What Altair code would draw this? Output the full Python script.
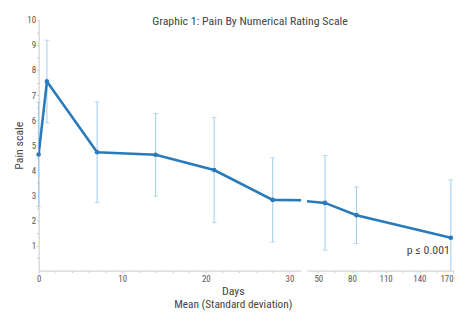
import altair as alt
import pandas as pd

# ---- data ----
days = [0, 1, 7, 14, 21, 28, 56, 84, 168]
pain_mean = [4.63, 7.54, 4.72, 4.62, 4.01, 2.82, 2.70, 2.21, 1.31]
pain_sd = [2.08, 1.65, 2.01, 1.65, 2.10, 1.68, 1.89, 1.13, 2.31]

left_ticks = [0, 2, 4, 6, 8, 10, 12, 14, 16, 18, 20, 22, 24, 26, 28, 30]
left_labels = [0, 10, 20, 30]
right_ticks = [50, 65, 80, 95, 110, 125, 140, 155, 170]
right_labels = [50, 80, 110, 140, 170]
y_ticks = [0.5, 1, 1.5, 2, 2.5, 3, 3.5, 4, 4.5, 5, 5.5, 6, 6.5, 7, 7.5, 8, 8.5, 9, 9.5, 10]
y_labels = [1, 2, 3, 4, 5, 6, 7, 8, 9, 10]

p_day = [148]
p_value = [0.8]
p_text = ["p \u2264 0.001"]

LINE = "#2a7ab9"
ERR = "#9fcbe8"
FONT = "Liberation Sans Narrow, Arial Narrow, Roboto Condensed, sans-serif"
TXT = "#444444"

df = pd.DataFrame({"day": days, "mean": pain_mean, "sd": pain_sd})
pdf = pd.DataFrame({"day": p_day, "value": p_value, "text": p_text})


def label_expr(vals):
    return "indexof([" + ",".join(str(v) for v in vals) + "], datum.value) >= 0 ? format(datum.value, 'd') : ''"


def panel(domain, width, ticks, labels, show_y, with_p, flush):
    xs = alt.Scale(domain=domain, nice=False, zero=False)
    ys = alt.Scale(domain=[0, 10], nice=False)
    x_axis = alt.Axis(values=ticks, labelExpr=label_expr(labels), title=None,
                      labelFlush=flush, labelOverlap=False, labelPadding=2)
    if show_y:
        y_axis = alt.Axis(values=y_ticks, labelExpr=label_expr(y_labels),
                          title="Pain scale", labelOverlap=False,
                          labelPadding=1, titlePadding=1)
    else:
        y_axis = None
    base = alt.Chart(df).transform_calculate(
        lo="max(0, datum.mean - datum.sd)",
        hi="datum.mean + datum.sd",
    )
    inrange = base.transform_filter(
        f"datum.day >= {domain[0]} && datum.day <= {domain[1]}"
    )
    rules = inrange.mark_rule(color=ERR, strokeWidth=1).encode(
        x=alt.X("day:Q", scale=xs, axis=x_axis),
        y=alt.Y("lo:Q", scale=ys, axis=y_axis),
        y2="hi:Q",
    )
    caps = inrange.transform_calculate(
        locap="datum.mean - datum.sd >= 0 ? datum.mean - datum.sd : null"
    ).transform_fold(["hi", "locap"], as_=["end", "v"]).transform_filter(
        "isValid(datum.v)"
    ).mark_tick(color=ERR, orient="horizontal", size=5, thickness=1).encode(
        x=alt.X("day:Q", scale=xs, axis=x_axis),
        y=alt.Y("v:Q", scale=ys, axis=y_axis),
    )
    line = base.mark_line(color=LINE, strokeWidth=2.6, clip=True).encode(
        x=alt.X("day:Q", scale=xs, axis=x_axis),
        y=alt.Y("mean:Q", scale=ys, axis=y_axis),
    )
    pts = inrange.mark_circle(color=LINE, size=22, opacity=1).encode(
        x=alt.X("day:Q", scale=xs, axis=x_axis),
        y=alt.Y("mean:Q", scale=ys, axis=y_axis),
    )
    layers = [rules, caps, line, pts]
    if with_p:
        ptxt = alt.Chart(pdf).mark_text(font=FONT, fontSize=12, color=TXT).encode(
            x=alt.X("day:Q", scale=xs, axis=x_axis),
            y=alt.Y("value:Q", scale=ys, axis=y_axis),
            text="text:N",
        )
        layers.append(ptxt)
    return alt.layer(*layers).properties(width=width, height=254)


left = panel([0, 31.4], 266, left_ticks, left_labels, True, False, False)
right = panel([40, 170], 148, right_ticks, right_labels, False, True, True)

inner = alt.hconcat(left, right, spacing=6).properties(
    title=alt.TitleParams(
        text="Days",
        subtitle="Mean (Standard deviation)",
        orient="bottom",
        anchor="middle",
        font=FONT,
        fontSize=12,
        fontWeight="normal",
        color=TXT,
        subtitleFont=FONT,
        subtitleFontSize=11.5,
        subtitleColor=TXT,
        offset=3,
        subtitlePadding=1,
    )
).resolve_scale(y="shared")

chart = alt.vconcat(inner).properties(
    title=alt.TitleParams(
        text="Graphic 1: Pain By Numerical Rating Scale",
        anchor="middle",
        font=FONT,
        fontSize=12,
        fontWeight="normal",
        color=TXT,
        offset=-12,
        dx=17,
    )
).configure_view(stroke=None).configure_axis(
    grid=False,
    domainColor="#c8c8c8",
    tickColor="#c8c8c8",
    tickSize=2,
    labelColor="#555555",
    labelFont=FONT,
    labelFontSize=9,
    labelPadding=2,
    labelOverlap=False,
    titleFont=FONT,
    titleFontSize=12,
    titleFontWeight="normal",
    titleColor=TXT,
    titlePadding=2,
)

chart.save("out.html", embed_options={"renderer": "svg", "actions": False})
